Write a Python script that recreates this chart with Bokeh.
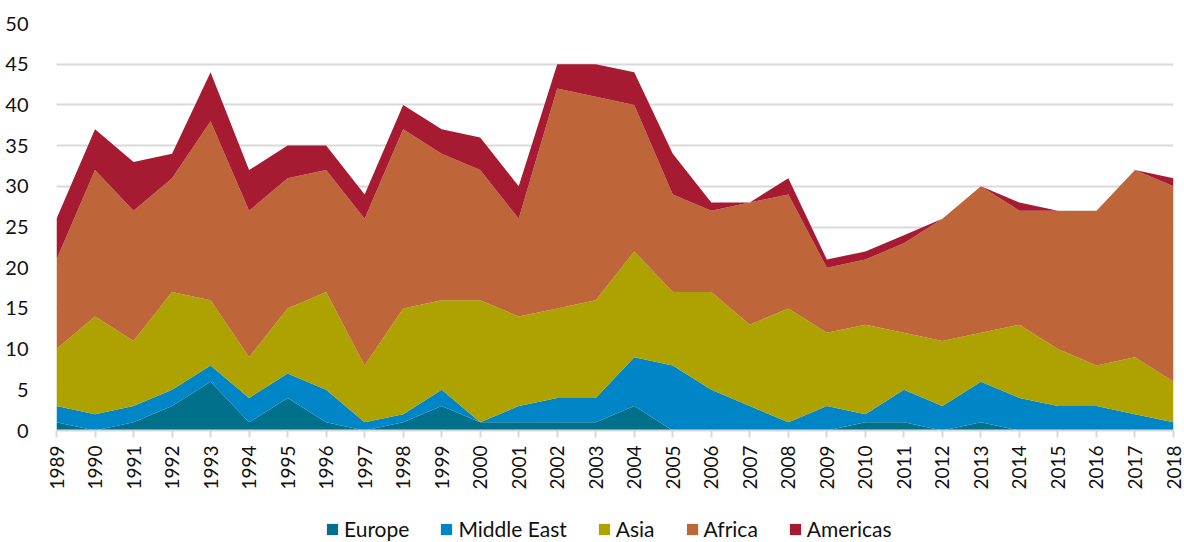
import math
from bokeh.plotting import figure
from bokeh.layouts import column
from bokeh.models import ColumnDataSource, Range1d, FixedTicker, Legend, LegendItem
from bokeh.embed import file_html
from bokeh.resources import INLINE

years = list(range(1989, 2019))
europe = [1, 0, 1, 3, 6, 1, 4, 1, 0, 1, 3, 1, 1, 1, 1, 3, 0, 0, 0, 0, 0, 1, 1, 0, 1, 0, 0, 0, 0, 0]
middle_east = [2, 2, 2, 2, 2, 3, 3, 4, 1, 1, 2, 0, 2, 3, 3, 6, 8, 5, 3, 1, 3, 1, 4, 3, 5, 4, 3, 3, 2, 1]
asia = [7, 12, 8, 12, 8, 5, 8, 12, 7, 13, 11, 15, 11, 11, 12, 13, 9, 12, 10, 14, 9, 11, 7, 8, 6, 9, 7, 5, 7, 5]
africa = [11, 18, 16, 14, 22, 18, 16, 15, 18, 22, 18, 16, 12, 27, 25, 18, 12, 10, 15, 14, 8, 8, 11, 15, 18, 14, 17, 19, 23, 24]
americas = [5, 5, 6, 3, 6, 5, 4, 3, 3, 3, 3, 4, 4, 3, 4, 4, 5, 1, 0, 2, 1, 1, 1, 0, 0, 1, 0, 0, 0, 1]

series_names = ["Europe", "Middle East", "Asia", "Africa", "Americas"]
series_keys = ["europe", "middle_east", "asia", "africa", "americas"]
colors = ["#00708B", "#0085C7", "#ADA200", "#BE663A", "#A61B32"]
y_ticks = list(range(0, 51, 5))

source = ColumnDataSource(dict(year=years, europe=europe, middle_east=middle_east,
                               asia=asia, africa=africa, americas=americas))

FONT = "Lato"

# ---------- main chart ----------
p = figure(width=1184, height=500, output_backend="svg", toolbar_location=None,
           x_range=Range1d(1989, 2018), y_range=Range1d(0, 50),
           min_border_left=56, min_border_right=11, min_border_top=23, min_border_bottom=70)
p.outline_line_color = None
p.background_fill_color = "white"
p.border_fill_color = "white"

renderers = p.varea_stack(stackers=series_keys, x="year", color=colors, source=source)

p.xgrid.grid_line_color = None
p.ygrid.grid_line_color = "#d9d9d9"
p.ygrid.grid_line_width = 2
p.ygrid.ticker = FixedTicker(ticks=y_ticks)

p.yaxis.ticker = FixedTicker(ticks=y_ticks)
p.yaxis.axis_line_color = None
p.yaxis.major_tick_line_color = None
p.yaxis.minor_tick_line_color = None
p.yaxis.major_label_standoff = 22
p.yaxis.major_label_text_font = FONT
p.yaxis.major_label_text_font_size = "20px"
p.yaxis.major_label_text_color = "#111111"

p.xaxis.ticker = FixedTicker(ticks=years)
p.xaxis.axis_line_color = "#d9d9d9"
p.xaxis.axis_line_width = 2
p.xaxis.major_tick_line_color = "#d9d9d9"
p.xaxis.major_tick_line_width = 2
p.xaxis.major_tick_in = 0
p.xaxis.major_tick_out = 7
p.xaxis.minor_tick_line_color = None
p.xaxis.major_label_orientation = math.pi / 2
p.xaxis.major_label_standoff = 8
p.xaxis.major_label_text_font = FONT
p.xaxis.major_label_text_font_size = "19px"
p.xaxis.major_label_text_color = "#111111"

# ---------- legend strip ----------
pl = figure(width=1184, height=42, output_backend="svg", toolbar_location=None,
            x_range=Range1d(0, 1), y_range=Range1d(0, 1),
            x_axis_location=None, y_axis_location=None,
            min_border_left=0, min_border_right=0, min_border_top=0, min_border_bottom=0)
pl.outline_line_color = None
pl.grid.visible = False
pl.border_fill_color = "white"
pl.background_fill_color = "white"

# proxy areas placed outside the visible range: they only provide the legend swatches
legend_renderers = [pl.varea(x=[5, 6], y1=[5, 5], y2=[6, 6], color=c) for c in colors]
legend = Legend(items=[LegendItem(label=n, renderers=[r]) for n, r in zip(series_names, legend_renderers)],
                orientation="horizontal", location=(269, 1),
                glyph_width=14, glyph_height=14, label_standoff=5, spacing=30,
                padding=0, margin=0, border_line_color=None,
                background_fill_alpha=0,
                label_text_font=FONT, label_text_font_size="21px",
                label_text_color="#111111", label_height=20)
pl.add_layout(legend, "center")

layout = column(p, pl, spacing=0)
open("out.html", "w").write(file_html(layout, INLINE))
